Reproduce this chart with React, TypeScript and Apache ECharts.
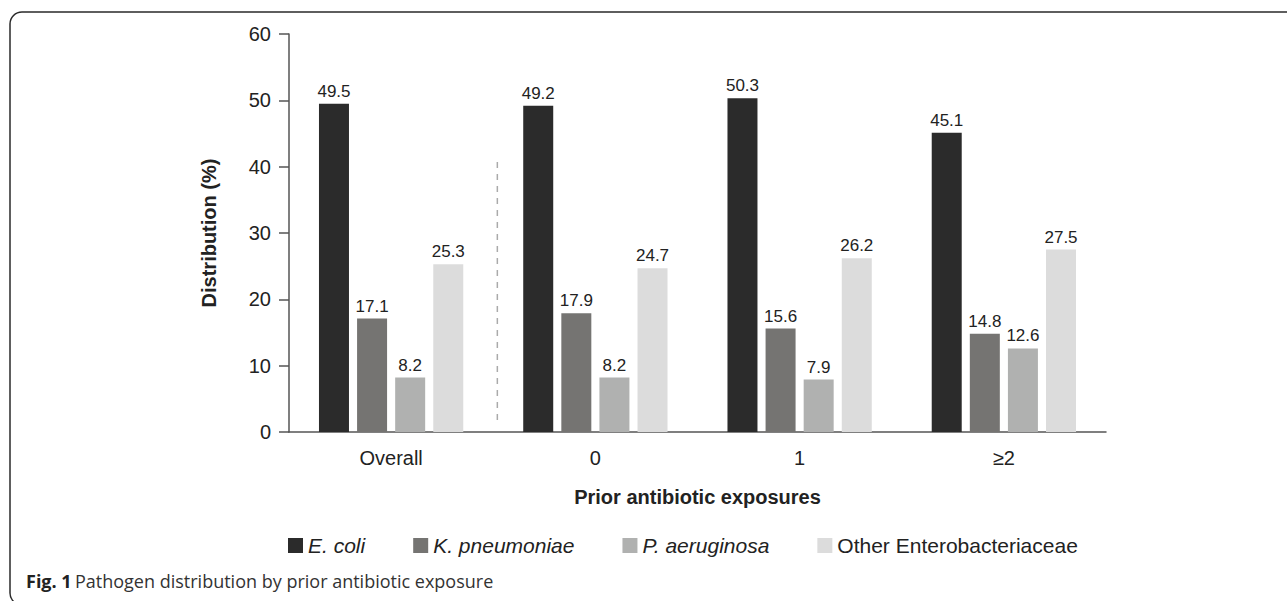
import React, { useEffect, useRef } from "react";
import * as echarts from "echarts";

const categories = ["Overall", "0", "1", "≥2"];
const seriesNames = ["E. coli", "K. pneumoniae", "P. aeruginosa", "Other Enterobacteriaceae"];
const italicNames = [true, true, true, false];
const eColi = [49.5, 49.2, 50.3, 45.1];
const kPneumoniae = [17.1, 17.9, 15.6, 14.8];
const pAeruginosa = [8.2, 8.2, 7.9, 12.6];
const otherEntero = [25.3, 24.7, 26.2, 27.5];
const seriesValues = [eColi, kPneumoniae, pAeruginosa, otherEntero];
const seriesColors = ["#2b2b2b", "#757472", "#b0b1b0", "#dcdcdc"];
const yTicks = { min: 0, max: 60, interval: 10 };
// dashed divider between "Overall" and the exposure groups (in category units / data units)
const dividerX = 1.02;
const dividerY = [1.8, 41.3];

const FONT = "'Liberation Sans', Arial, sans-serif";

export default function App() {
  const ref = useRef<HTMLDivElement>(null);
  useEffect(() => {
    if (!ref.current) return;
    const chart = echarts.init(ref.current, null, { renderer: "svg" });
    const bars = seriesNames.map((name, i) => ({
      name,
      type: "bar",
      xAxisIndex: 0,
      yAxisIndex: 0,
      data: seriesValues[i],
      barWidth: 30,
      barGap: "27%",
      itemStyle: { color: seriesColors[i] },
      label: {
        show: true,
        position: "top",
        distance: 4,
        fontSize: 17,
        color: "#222",
        fontFamily: FONT,
        formatter: (p: any) => p.value.toFixed(1),
      },
    }));
    chart.setOption({
      animation: false,
      backgroundColor: "#fff",
      textStyle: { fontFamily: FONT },
      grid: { left: 289, right: 181, top: 34, bottom: 169, containLabel: false },
      legend: {
        left: 288,
        top: 535,
        padding: 0,
        icon: "rect",
        itemWidth: 15,
        itemHeight: 15,
        itemGap: 48,
        textStyle: { fontSize: 21, color: "#222", fontFamily: FONT },
        data: seriesNames.map((n, i) => ({
          name: n,
          textStyle: { fontStyle: italicNames[i] ? "italic" : "normal" },
        })),
      },
      xAxis: [
        {
          type: "category",
          data: categories,
          axisLine: { show: true, lineStyle: { color: "#555", width: 1.5 } },
          axisTick: { show: false },
          axisLabel: { fontSize: 20, color: "#222", margin: 16, fontFamily: FONT },
          name: "Prior antibiotic exposures",
          nameLocation: "middle",
          nameGap: 55,
          nameTextStyle: { fontSize: 20, fontWeight: "bold", color: "#222", fontFamily: FONT },
        },
        {
          type: "value",
          min: 0,
          max: categories.length,
          show: false,
        },
      ],
      yAxis: {
        type: "value",
        min: yTicks.min,
        max: yTicks.max,
        interval: yTicks.interval,
        axisLine: { show: true, lineStyle: { color: "#555", width: 1.5 } },
        axisTick: { show: true, length: 10, lineStyle: { color: "#555", width: 1.5 } },
        splitLine: { show: false },
        axisLabel: { fontSize: 20, color: "#222", margin: 18, fontFamily: FONT },
        name: "Distribution (%)",
        nameLocation: "middle",
        nameGap: 70,
        nameTextStyle: { fontSize: 20, fontWeight: "bold", color: "#222", fontFamily: FONT },
      },
      series: [
        ...bars,
        {
          name: "divider",
          type: "line",
          xAxisIndex: 1,
          yAxisIndex: 0,
          data: [
            [dividerX, dividerY[0]],
            [dividerX, dividerY[1]],
          ],
          symbol: "none",
          lineStyle: { color: "#aaa", width: 1.5, type: [6, 6] },
          silent: true,
        },
      ],
      graphic: [
        {
          type: "rect",
          shape: { x: 10, y: 12, width: 1300, height: 593, r: 12 },
          style: { fill: "none", stroke: "#2a2a2a", lineWidth: 1.5 },
          silent: true,
          z: -1,
        },
        {
          type: "text",
          x: 26,
          y: 581,
          style: {
            text: "{b|Fig. 1} {n|Pathogen distribution by prior antibiotic exposure}",
            verticalAlign: "middle",
            rich: {
              b: { fontFamily: "'Open Sans', sans-serif", fontSize: 18, fontWeight: "bold", fill: "#222" },
              n: { fontFamily: "'Open Sans', sans-serif", fontSize: 18, fill: "#333" },
            },
          },
        },
      ],
    });
    return () => chart.dispose();
  }, []);
  return (
    <div
      ref={ref}
      style={{ position: "fixed", left: 0, top: 0, width: 1287, height: 601 }}
    />
  );
}
